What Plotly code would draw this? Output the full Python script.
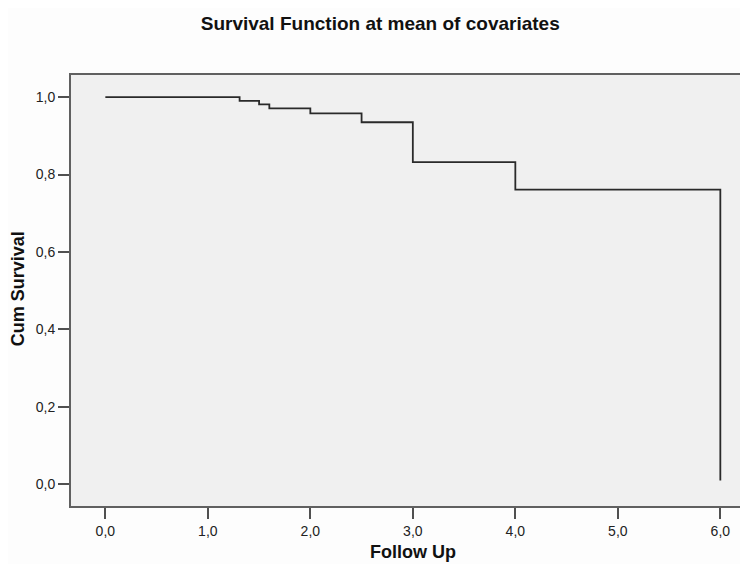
import plotly.graph_objects as go

# Data (step function: value holds from each time to the next)
follow_up = [0.0, 1.31, 1.50, 1.60, 2.0, 2.5, 3.0, 4.0, 6.0]
cum_survival = [1.0, 0.990, 0.981, 0.971, 0.958, 0.935, 0.832, 0.761, 0.01]

x_ticks = [0, 1, 2, 3, 4, 5, 6]
y_ticks = [0.0, 0.2, 0.4, 0.6, 0.8, 1.0]

FONT = "Liberation Sans, Arial, sans-serif"

fig = go.Figure()
fig.add_trace(go.Scatter(
    x=follow_up, y=cum_survival, mode="lines", line_shape="hv",
    line=dict(color="#2a2a2a", width=1.8), showlegend=False, hoverinfo="skip"))

# page has an 8px body margin, so the figure is 740x556 to fill the 748x564 window
fig.update_layout(
    width=740, height=556,
    margin=dict(l=63, r=0, t=67, b=58),
    paper_bgcolor="#fdfdfd", plot_bgcolor="#f0f0f0",
    separators=",.",
    font=dict(family=FONT, size=14, color="#222222"),
    title=dict(text="<b>Survival Function at mean of covariates</b>",
               x=0.503, xanchor="center", y=1 - 15.5 / 556, yanchor="middle",
               font=dict(family=FONT, size=19, color="#111111")),
    annotations=[
        dict(text="<b>Follow Up</b>", xref="paper", yref="paper",
             x=0.505, y=-0.106, xanchor="center", yanchor="middle",
             showarrow=False, font=dict(family=FONT, size=18, color="#111111")),
        dict(text="<b>Cum Survival</b>", xref="paper", yref="paper",
             x=-0.0783, y=0.505, xanchor="center", yanchor="middle", textangle=-90,
             showarrow=False, font=dict(family=FONT, size=18, color="#111111")),
    ],
)
fig.update_xaxes(
    range=[-0.335, 6.27], tickvals=x_ticks, tickformat=".1f",
    showgrid=False, zeroline=False,
    showline=True, mirror=True, linecolor="#606060", linewidth=2,
    ticks="outside", ticklen=11, tickwidth=2, tickcolor="#505050",
    tickfont=dict(size=14, color="#222222"),
)
fig.update_yaxes(
    range=[-0.056, 1.057], tickvals=y_ticks, tickformat=".1f",
    showgrid=False, zeroline=False,
    showline=True, mirror=False, linecolor="#606060", linewidth=2,
    ticks="outside", ticklen=11, tickwidth=2, tickcolor="#505050",
    tickfont=dict(size=14, color="#222222"),
)

fig.write_html("out.html")
